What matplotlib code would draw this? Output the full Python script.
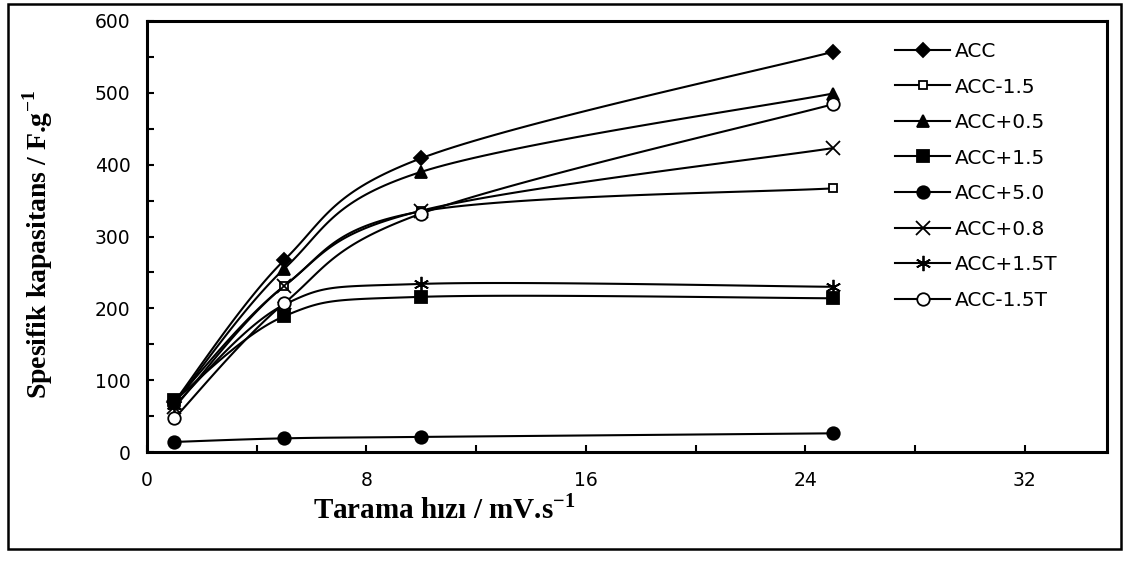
import matplotlib as mpl
mpl.use('Agg')

import matplotlib.pyplot as plt
from matplotlib.lines import Line2D
from matplotlib.patches import Rectangle
import numpy as np

mpl.rcParams['mathtext.fontset'] = 'custom'
mpl.rcParams['mathtext.rm'] = 'Liberation Serif:bold'
mpl.rcParams['mathtext.bf'] = 'Liberation Serif:bold'

# scan rates (mV/s)
scan_rate = [1, 5, 10, 25]

# specific capacitance (F/g)
series_names = ['ACC', 'ACC-1.5', 'ACC+0.5', 'ACC+1.5',
                'ACC+5.0', 'ACC+0.8', 'ACC+1.5T', 'ACC-1.5T']
acc = [70, 267, 409, 557]
acc_m15 = [70, 231, 335, 367]
acc_p05 = [68, 255, 390, 499]
acc_p15 = [72, 189, 216, 214]
acc_p50 = [14, 19, 21, 26]
acc_p08 = [62, 231, 336, 423]
acc_p15t = [65, 205, 234, 230]
acc_m15t = [47, 207, 332, 484]

xticks = [0, 8, 16, 24, 32]
yticks = [0, 100, 200, 300, 400, 500, 600]

markers = ['D', 's', '^', 's', 'o', 'x', (6, 2, 0), 'o']
msizes = [7, 6, 8, 9, 9, 10, 11, 9]
mfaces = ['k', 'w', 'k', 'k', 'k', 'k', 'k', 'w']


def smooth(x, y, n=40):
    # excel style bezier smoothing through the data points
    x = np.asarray(x, float)
    y = np.asarray(y, float)
    px = np.concatenate([[x[0]], x, [x[-1]]])
    py = np.concatenate([[y[0]], y, [y[-1]]])
    t = np.linspace(0, 1, n)[:, None]
    xs, ys = [], []
    for i in range(len(x) - 1):
        p0 = np.array([px[i + 1], py[i + 1]])
        p3 = np.array([px[i + 2], py[i + 2]])
        c1 = p0 + (np.array([px[i + 2], py[i + 2]]) - np.array([px[i], py[i]])) / 6.0
        c2 = p3 - (np.array([px[i + 3], py[i + 3]]) - np.array([px[i + 1], py[i + 1]])) / 6.0
        b = ((1 - t) ** 3) * p0 + 3 * ((1 - t) ** 2) * t * c1 + 3 * (1 - t) * t ** 2 * c2 + t ** 3 * p3
        xs.append(b[:, 0])
        ys.append(b[:, 1])
    return np.concatenate(xs), np.concatenate(ys)


fig = plt.figure(figsize=(11.25, 5.63), dpi=100)
ax = fig.add_axes([147 / 1125., 1 - 452 / 563., 960 / 1125., 431 / 563.])

data = [acc, acc_m15, acc_p05, acc_p15, acc_p50, acc_p08, acc_p15t, acc_m15t]
handles = []
for i, vals in enumerate(data):
    sx, sy = smooth(scan_rate, vals)
    ax.plot(sx, sy, color='k', lw=1.5, zorder=2)
    ax.plot(scan_rate, vals, ls='', marker=markers[i], ms=msizes[i],
            mfc=mfaces[i], mec='k', mew=1.3, zorder=3)
    handles.append(Line2D([], [], color='k', lw=1.5, marker=markers[i],
                          ms=msizes[i], mfc=mfaces[i], mec='k', mew=1.3))

ax.set_xlim(0, 35)
ax.set_ylim(0, 600)
ax.set_xticks(xticks)
ax.set_xticks(np.arange(0, 35, 4), minor=True)
ax.set_yticks(yticks)
ax.set_yticks(np.arange(0, 601, 50), minor=True)
ax.tick_params(which='both', direction='in', length=5, width=1.5)
ax.tick_params(axis='x', pad=14)
ax.tick_params(axis='y', pad=12)
for lab in ax.get_xticklabels() + ax.get_yticklabels():
    lab.set_fontfamily('DejaVu Sans')
    lab.set_fontsize(13.5)
for sp in ax.spines.values():
    sp.set_linewidth(2.2)

ax.set_xlabel('Tarama hızı / mV.s$^{\\mathrm{-1}}$', family='Liberation Serif',
              fontweight='bold', fontsize=21)
ax.xaxis.set_label_coords((444 - 147) / 960., -(494 - 452) / 431., transform=ax.transAxes)
ax.set_ylabel('Spesifik kapasitans / F.g$^{\\mathrm{-1}}$', family='Liberation Serif',
              fontweight='bold', fontsize=20)
ax.yaxis.set_label_coords(-(147 - 55) / 960., (452 - 245) / 431., transform=ax.transAxes)

leg = fig.legend(handles, series_names, loc='upper left',
                 bbox_to_anchor=(895 / 1125., 1 - 42 / 563.), frameon=False,
                 prop={'family': 'DejaVu Sans', 'size': 14.5}, handlelength=2.75,
                 handletextpad=0.22, labelspacing=0.82, borderpad=0, borderaxespad=0)

# outer border around the whole chart
fig.patches.append(Rectangle((8 / 1125., 1 - 549 / 563.), 1113 / 1125., 545 / 563.,
                             transform=fig.transFigure, fill=False, lw=1.8,
                             edgecolor='k'))

plt.savefig('out.png')
plt.close()
